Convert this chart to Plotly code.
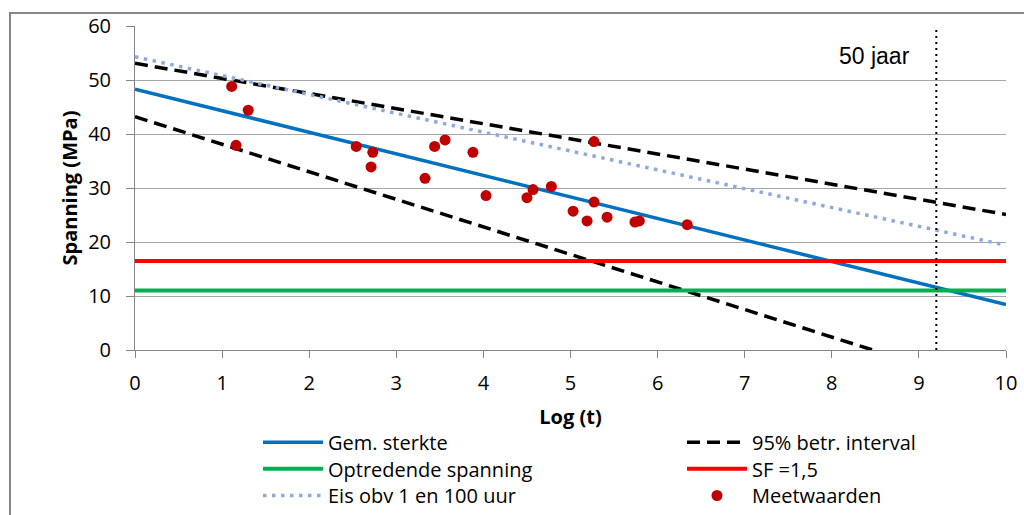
import plotly.graph_objects as go

# ---- data ----
x_line = [0, 10]
gem_sterkte = [48.3, 8.4]
upper_95 = [53.1, 25.1]
lower_95_x = [0, 8.47]
lower_95 = [43.2, 0]
eis_1_100 = [54.3, 19.4]
optredende = [11.0, 11.0]
sf_15 = [16.5, 16.5]
jaar50_x = [9.2, 9.2]
jaar50_y = [0, 60]

meet_x = [1.11, 1.30, 1.16, 2.54, 2.73, 2.71, 3.33, 3.44, 3.56, 3.88, 4.03,
          4.50, 4.57, 4.78, 5.27, 5.03, 5.19, 5.27, 5.42, 5.74, 5.79, 6.34]
meet_y = [48.8, 44.4, 37.9, 37.7, 36.6, 33.9, 31.8, 37.7, 38.9, 36.6, 28.6,
          28.2, 29.7, 30.3, 38.6, 25.7, 23.9, 27.4, 24.6, 23.7, 23.9, 23.2]

x_ticks = list(range(0, 11))
y_ticks = list(range(0, 61, 10))

FONT = "Open Sans"
FS = 20
fig = go.Figure()

fig.add_trace(go.Scatter(x=x_line, y=gem_sterkte, mode="lines", name="Gem. sterkte",
                         legend="legend", line=dict(color="#0070C0", width=3.5)))
fig.add_trace(go.Scatter(x=x_line + [None] + lower_95_x, y=upper_95 + [None] + lower_95,
                         mode="lines", name="95% betr. interval", legend="legend2",
                         line=dict(color="black", width=3.5, dash="13px,7px")))
fig.add_trace(go.Scatter(x=x_line, y=optredende, mode="lines", name="Optredende spanning",
                         legend="legend3", line=dict(color="#00B050", width=4)))
fig.add_trace(go.Scatter(x=x_line, y=sf_15, mode="lines", name="SF =1,5",
                         legend="legend4", line=dict(color="#FF0000", width=4)))
fig.add_trace(go.Scatter(x=x_line, y=eis_1_100, mode="lines", name="Eis obv 1 en 100 uur",
                         legend="legend5",
                         line=dict(color="#8EA9DB", width=3.5, dash="3.5px,5.5px")))
fig.add_trace(go.Scatter(x=meet_x, y=meet_y, mode="markers", name="Meetwaarden",
                         legend="legend6", marker=dict(color="#C00000", size=11)))
fig.add_trace(go.Scatter(x=jaar50_x, y=jaar50_y, mode="lines", showlegend=False,
                         line=dict(color="black", width=2, dash="2px,4px")))

fig.add_annotation(x=8.49, y=54.5, text="50 jaar", showarrow=False,
                   font=dict(family="Liberation Sans", size=23, color="black"))

# outer chart frame
fig.add_shape(type="rect", xref="paper", yref="paper",
              x0=(10 - 135) / 871, x1=1.2, y0=-1, y1=(349.5 - 12.5) / 324,
              line=dict(color="#868686", width=2), fillcolor="rgba(0,0,0,0)", layer="below")


def leg(xpx, ypx):
    return dict(orientation="v", xanchor="left", yanchor="middle",
                x=(xpx - 135) / 871, y=(349.5 - ypx) / 324,
                font=dict(family=FONT, size=FS), bgcolor="rgba(0,0,0,0)",
                itemwidth=60, tracegroupgap=0)


rows = [441.7, 468.3, 495.0]
fig.update_layout(
    width=1024, height=515,
    margin=dict(l=135, r=18, t=26, b=165, autoexpand=False),
    paper_bgcolor="white", plot_bgcolor="white",
    font=dict(family=FONT, size=FS, color="black"),
    showlegend=True,
    legend=leg(258, rows[0]), legend2=leg(682, rows[0]),
    legend3=leg(258, rows[1]), legend4=leg(682, rows[1]),
    legend5=leg(258, rows[2]), legend6=leg(682, rows[2]),
    xaxis=dict(range=[0, 10], tickvals=x_ticks, showgrid=False, zeroline=False,
               showline=True, linecolor="#868686", linewidth=1,
               ticks="outside", ticklen=7, tickcolor="#868686", ticklabelstandoff=8,
               tickfont=dict(family=FONT, size=FS),
               title=dict(text="<b>Log (t)</b>", font=dict(family=FONT, size=FS), standoff=14)),
    yaxis=dict(range=[0, 60], tickvals=y_ticks, showgrid=True, gridcolor="#A6A6A6",
               gridwidth=1, zeroline=False, showline=True, linecolor="#868686",
               linewidth=1, ticks="outside", ticklen=8, tickcolor="#868686",
               ticklabelstandoff=11, tickfont=dict(family=FONT, size=FS),
               title=dict(text="<b>Spanning (MPa)</b>", font=dict(family=FONT, size=FS),
                          standoff=5)),
)

fig.write_html("out.html")
